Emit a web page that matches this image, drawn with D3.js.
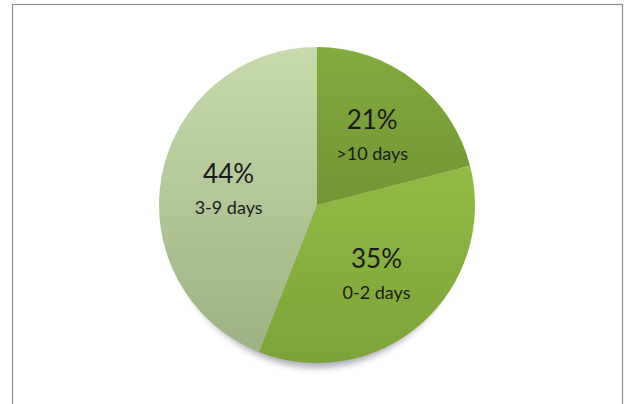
<!DOCTYPE html>
<html>
<head>
<meta charset="utf-8">
<script src="https://cdn.jsdelivr.net/npm/d3@7"></script>
<style>
  body { margin: 0; background: #fff; }
  svg { display: block; }
</style>
</head>
<body>
<svg id="chart" width="626" height="404"></svg>
<script>
var categories = [">10 days", "0-2 days", "3-9 days"];
var values = [21, 35, 44];
var topColors = ["#82aa3e", "#a0ca4c", "#c7dcaa"];
var bottomColors = ["#63822b", "#7ba338", "#9cb081"];

var width = 626, height = 404;
var svg = d3.select("#chart");

var defs = svg.append("defs");

defs.append("filter")
  .attr("id", "shadow")
  .attr("x", "-20%").attr("y", "-20%")
  .attr("width", "140%").attr("height", "140%")
  .append("feGaussianBlur")
  .attr("stdDeviation", 3);

var radius = 158;

categories.forEach(function(c, i) {
  var g = defs.append("linearGradient")
    .attr("id", "grad" + i)
    .attr("gradientUnits", "userSpaceOnUse")
    .attr("x1", 0).attr("y1", -radius)
    .attr("x2", 0).attr("y2", radius);
  g.append("stop").attr("offset", "0%").attr("stop-color", topColors[i]);
  g.append("stop").attr("offset", "100%").attr("stop-color", bottomColors[i]);
});

// frame
svg.append("rect")
  .attr("x", 12.5).attr("y", 4.5)
  .attr("width", 610).attr("height", 420)
  .attr("fill", "#fff")
  .attr("stroke", "#8c8c8c")
  .attr("stroke-width", 1.2);

var cx = 317, cy = 205;

var g = svg.append("g")
  .attr("transform", `translate(${cx}, ${cy})`);

// soft shadow under the pie
g.append("ellipse")
  .attr("cx", 0).attr("cy", 5)
  .attr("rx", radius - 8).attr("ry", radius)
  .attr("fill", "#8e8ea0")
  .attr("opacity", 0.7)
  .attr("filter", "url(#shadow)");

var pie = d3.pie().sort(null).value(d => d);
var arcs = pie(values);

var arc = d3.arc().innerRadius(0).outerRadius(radius);
var labelArc = d3.arc().innerRadius(90).outerRadius(90);

g.selectAll("path.slice")
  .data(arcs)
  .enter().append("path")
  .attr("class", "slice")
  .attr("d", arc)
  .attr("fill", (d, i) => "url(#grad" + i + ")");

g.selectAll("g.label")
  .data(arcs)
  .enter().append("g")
  .attr("class", "label")
  .attr("transform", d => `translate(${labelArc.centroid(d)})`)
  .each(function(d, i) {
    var t = d3.select(this);
    t.append("text")
      .attr("y", -5)
      .attr("text-anchor", "middle")
      .style("font-family", "Lato, 'Open Sans', sans-serif")
      .style("font-size", "26px")
      .style("fill", "#1a1a1a")
      .text(values[i] + "%");
    t.append("text")
      .attr("y", 26)
      .attr("text-anchor", "middle")
      .style("font-family", "Lato, 'Open Sans', sans-serif")
      .style("font-size", "18px")
      .style("fill", "#1a1a1a")
      .text(categories[i]);
  });
</script>
</body>
</html>
